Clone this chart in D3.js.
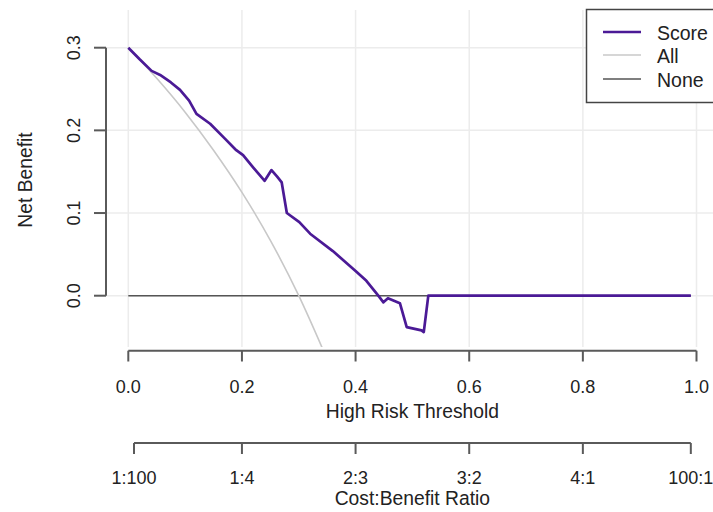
<!DOCTYPE html>
<html><head><meta charset="utf-8">
<script src="https://cdn.jsdelivr.net/npm/d3@7"></script>
<style>body{margin:0;background:#fff}svg{display:block}text{font-family:"Liberation Sans",Arial,sans-serif;fill:#222}</style>
</head><body><svg id="c" width="713" height="512"></svg>
<script>
const scoreT  = [0,0.02,0.041,0.056,0.075,0.091,0.107,0.12,0.144,0.17,0.19,0.202,0.22,0.24,0.252,0.262,0.27,0.279,0.301,0.32,0.36,0.40,0.419,0.44,0.449,0.457,0.478,0.49,0.516,0.52,0.528,0.99];
const scoreNB = [0.3,0.286,0.272,0.267,0.258,0.249,0.236,0.22,0.208,0.19,0.176,0.17,0.155,0.139,0.152,0.144,0.137,0.1,0.089,0.075,0.054,0.03,0.018,0.0,-0.008,-0.003,-0.009,-0.038,-0.042,-0.044,0,0];
const allT  = [0,0.05,0.1,0.15,0.2,0.25,0.3,0.35];
const allNB = [0.3,0.263,0.222,0.176,0.125,0.067,0.0,-0.077];
const noneT = [0,0.99];
const noneNB = [0,0];
const xTicks = [0,0.2,0.4,0.6,0.8,1.0];
const yTicks = [0,0.1,0.2,0.3];
const cbTicks = [0.01,0.2,0.4,0.6,0.8,0.99];
const cbLabels = ["1:100","1:4","2:3","3:2","4:1","100:1"];
const seriesNames = ["Score","All","None"];
const seriesColors = ["#4b1a96","#c8c8c8","#555555"];

const svg = d3.select("#c");
const x = d3.scaleLinear().domain([0,1]).range([128.3,696.5]);
const y = d3.scaleLinear().domain([0,0.3]).range([295.7,47.7]);
const plot = {l:106,t:10,r:719,b:347};

svg.append("defs").append("clipPath").attr("id","clip").append("rect")
  .attr("x",plot.l).attr("y",plot.t).attr("width",plot.r-plot.l).attr("height",plot.b-plot.t);

// grid
const g = svg.append("g");
g.selectAll(".vg").data(xTicks).join("line").attr("x1",d=>x(d)).attr("x2",d=>x(d))
  .attr("y1",plot.t).attr("y2",plot.b).attr("stroke","#ececec").attr("stroke-width",1.5);
g.selectAll(".hg").data(yTicks).join("line").attr("y1",d=>y(d)).attr("y2",d=>y(d))
  .attr("x1",plot.l).attr("x2",plot.r).attr("stroke","#ececec").attr("stroke-width",1.5);

// lines
const lines = svg.append("g").attr("clip-path","url(#clip)");
const line = d3.line().x(d=>x(d[0])).y(d=>y(d[1]));
lines.append("path").datum(noneT.map((t,i)=>[t,noneNB[i]])).attr("d",line)
  .attr("fill","none").attr("stroke",seriesColors[2]).attr("stroke-width",1.5);
lines.append("path").datum(allT.map((t,i)=>[t,allNB[i]])).attr("d",d3.line().x(d=>x(d[0])).y(d=>y(d[1])).curve(d3.curveMonotoneX))
  .attr("fill","none").attr("stroke",seriesColors[1]).attr("stroke-width",1.6);
lines.append("path").datum(scoreT.map((t,i)=>[t,scoreNB[i]])).attr("d",line)
  .attr("fill","none").attr("stroke",seriesColors[0]).attr("stroke-width",2.7).attr("stroke-linejoin","round");

const axCol = "#5a5a5a";
const tickFont = 18, titleFont = 19.3;
// y axis
const ya = svg.append("g");
ya.append("line").attr("x1",plot.l).attr("x2",plot.l).attr("y1",y(0)).attr("y2",y(0.3)).attr("stroke",axCol).attr("stroke-width",2);
ya.selectAll(".yt").data(yTicks).join("line").attr("x1",plot.l).attr("x2",plot.l-12)
  .attr("y1",d=>y(d)).attr("y2",d=>y(d)).attr("stroke",axCol).attr("stroke-width",2);
ya.selectAll(".yl").data(yTicks).join("text").attr("transform",d=>`translate(80,${y(d)}) rotate(-90)`)
  .attr("text-anchor","middle").attr("font-size",tickFont).text(d=>d3.format(".1f")(d));
svg.append("text").attr("transform",`translate(31.5,180) rotate(-90)`).attr("text-anchor","middle")
  .attr("font-size",titleFont).text("Net Benefit");

// x axis
const xa = svg.append("g");
xa.append("line").attr("x1",x(0)).attr("x2",x(1)).attr("y1",350.7).attr("y2",350.7).attr("stroke",axCol).attr("stroke-width",2);
xa.selectAll(".xt").data(xTicks).join("line").attr("x1",d=>x(d)).attr("x2",d=>x(d))
  .attr("y1",350.7).attr("y2",361.5).attr("stroke",axCol).attr("stroke-width",2);
xa.selectAll(".xl").data(xTicks).join("text").attr("x",d=>x(d)).attr("y",393)
  .attr("text-anchor","middle").attr("font-size",tickFont).text(d=>d3.format(".1f")(d));
svg.append("text").attr("x",x(0.5)).attr("y",417.5).attr("text-anchor","middle").attr("font-size",titleFont).text("High Risk Threshold");

// cost benefit axis
const ca = svg.append("g");
ca.append("line").attr("x1",x(cbTicks[0])).attr("x2",x(cbTicks[cbTicks.length-1])).attr("y1",443).attr("y2",443).attr("stroke",axCol).attr("stroke-width",2);
ca.selectAll(".ct").data(cbTicks).join("line").attr("x1",d=>x(d)).attr("x2",d=>x(d))
  .attr("y1",443).attr("y2",454).attr("stroke",axCol).attr("stroke-width",2);
ca.selectAll(".cl").data(cbTicks).join("text").attr("x",d=>x(d)).attr("y",484)
  .attr("text-anchor","middle").attr("font-size",tickFont).text((d,i)=>cbLabels[i]);
svg.append("text").attr("x",x(0.5)).attr("y",505).attr("text-anchor","middle").attr("font-size",titleFont).text("Cost:Benefit Ratio");

// legend
const lg = svg.append("g");
lg.append("rect").attr("x",586.5).attr("y",9.5).attr("width",140).attr("height",93)
  .attr("fill","#fff").attr("stroke","#444").attr("stroke-width",1.5);
const ly = [32,55,79];
seriesNames.forEach((n,i)=>{
  lg.append("line").attr("x1",603).attr("x2",641).attr("y1",ly[i]).attr("y2",ly[i])
    .attr("stroke",seriesColors[i]).attr("stroke-width",i===0?2.7:1.6);
  lg.append("text").attr("x",657).attr("y",ly[i]+7.5).attr("font-size",19.5).text(n);
});
</script></body></html>
